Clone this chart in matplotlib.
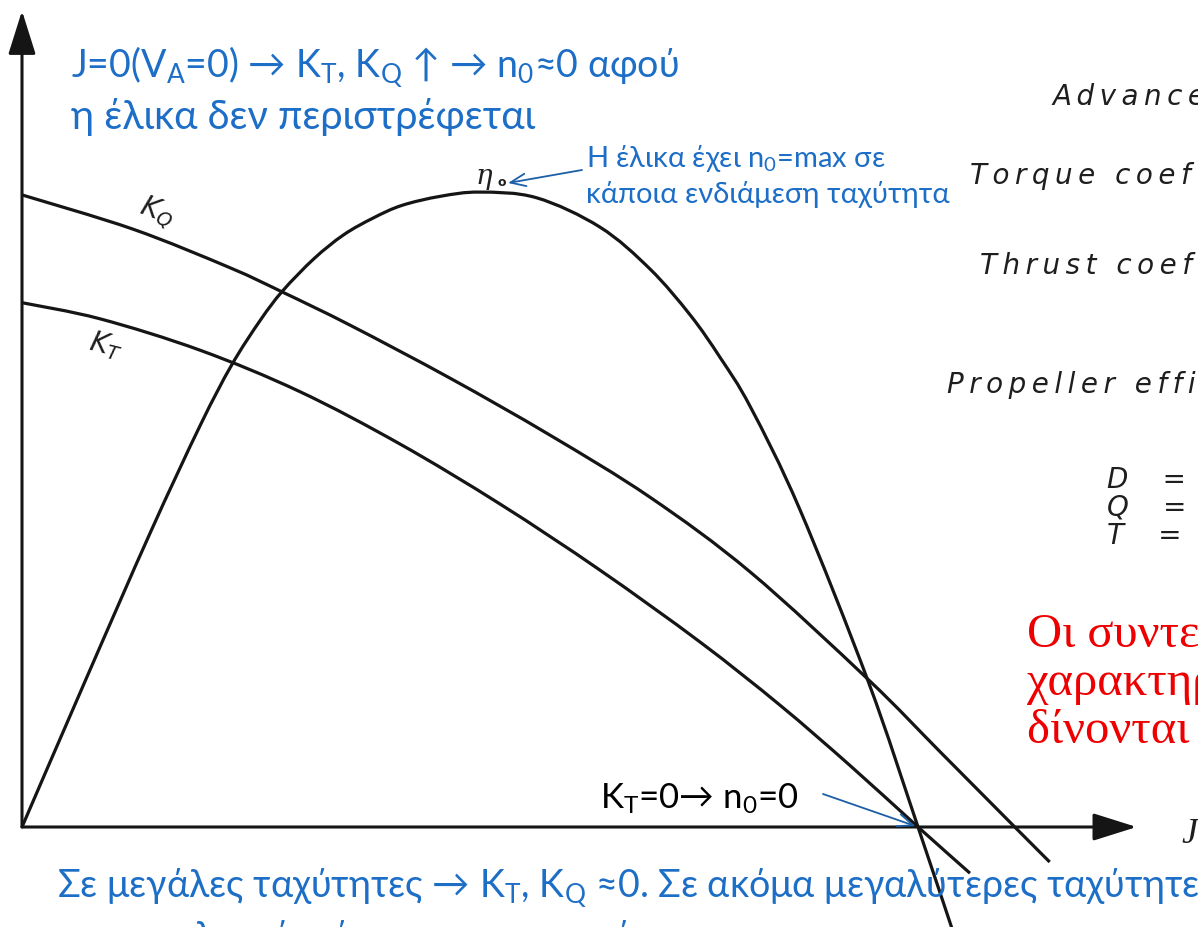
import numpy as np
import matplotlib
matplotlib.use("Agg")
import matplotlib.pyplot as plt
from matplotlib.patches import FancyArrowPatch, PathPatch
from matplotlib.path import Path

plt.rcParams['font.family'] = ['Lato', 'Noto Sans', 'DejaVu Sans']
plt.rcParams['mathtext.fontset'] = 'custom'
plt.rcParams['mathtext.rm'] = 'Lato'
plt.rcParams['mathtext.it'] = 'Lato'
plt.rcParams['mathtext.sf'] = 'DejaVu Sans:italic'

# open water curves of the propeller (J against scaled K_T, K_Q and eta_0)
j_kt = [0.000, 0.087, 0.199, 0.310, 0.422, 0.534, 0.645, 0.757, 0.846, 0.924, 1.000, 1.058]
kt = [0.749, 0.726, 0.681, 0.622, 0.547, 0.461, 0.367, 0.264, 0.174, 0.088, 0.000, -0.066]

j_kq = [0.000, 0.124, 0.232, 0.291, 0.366, 0.478, 0.589, 0.701, 0.813, 0.945, 1.025, 1.108, 1.147]
kq = [0.903, 0.854, 0.799, 0.764, 0.717, 0.641, 0.560, 0.471, 0.364, 0.210, 0.107, 0.000, -0.050]

j_eta = [0.000, 0.071, 0.143, 0.199, 0.234, 0.266, 0.291, 0.326, 0.359, 0.392, 0.424, 0.467,
         0.511, 0.574, 0.645, 0.701, 0.746, 0.779, 0.813, 0.868, 0.945, 1.000, 1.047]
eta = [0.000, 0.210, 0.420, 0.574, 0.660, 0.724, 0.766, 0.812, 0.846, 0.870, 0.888, 0.901,
       0.907, 0.899, 0.857, 0.797, 0.731, 0.671, 0.600, 0.454, 0.206, 0.000, -0.180]

# axis ends
j_end = 1.244
y_end = 1.166

W, H = 1198, 928
ox, oy = 22, 828          # origin in pixels
sx, sy = 896.0, 700.0     # pixels per unit

fig = plt.figure(figsize=(W / 100, H / 100), dpi=100)
ax = fig.add_axes([0, 0, 1, 1])
ax.set_xlim(-ox / sx, (W - ox) / sx)
ax.set_ylim(-(H - oy) / sy, oy / sy)
ax.axis('off')


def at(x, y):
    # pixel position -> figure fraction
    return x / W, 1 - y / H


def spaced(s):
    return '\u2009'.join(s)


def smooth(x, y):
    # catmull-rom through the points, as cubic bezier segments
    p = np.column_stack([x, y])
    verts, codes = [p[0]], [Path.MOVETO]
    for i in range(len(p) - 1):
        p0 = p[i - 1] if i > 0 else p[i]
        p3 = p[i + 2] if i + 2 < len(p) else p[i + 1]
        verts += [p[i] + (p[i + 1] - p0) / 6, p[i + 1] - (p3 - p[i]) / 6, p[i + 1]]
        codes += [Path.CURVE4] * 3
    return Path(verts, codes)


ink = '#151515'
lw = 2.3
for x, y in [(j_kq, kq), (j_kt, kt), (j_eta, eta)]:
    ax.add_patch(PathPatch(smooth(x, y), fill=False, edgecolor=ink, lw=lw, capstyle='butt'))

# axes with filled arrow heads
for tip in [(j_end, 0), (0, y_end)]:
    ax.add_patch(FancyArrowPatch((0, 0), tip, arrowstyle='-|>,head_length=27,head_width=8.5',
                                 mutation_scale=1, color=ink, lw=2.2, shrinkA=0, shrinkB=0))

# curve labels from the original diagram
scan = '#1e1e1e'
fig.text(*at(135, 224), r'$\mathsf{K_Q}$', fontsize=20, color=scan, rotation=-20, va='baseline')
fig.text(*at(86, 357), r'$\mathsf{K_T}$', fontsize=20, color=scan, rotation=-14, va='baseline')
fig.text(*at(476, 184), 'η', fontsize=20, color=scan, family='DejaVu Serif', style='italic',
         va='baseline')
fig.text(*at(497, 186), 'o', fontsize=9, color=scan, family='DejaVu Sans', weight='bold',
         va='baseline')
fig.text(*at(1181, 843), 'J', fontsize=26, color=scan, family='Liberation Serif', style='italic',
         va='baseline')

side = [('Advance coefficient', 1052, 105), ('Torque coefficient', 970, 184),
        ('Thrust coefficient', 980, 274), ('Propeller efficiency', 947, 393),
        ('D  =', 1107, 488), ('Q  =', 1107, 516), ('T  =', 1107, 544)]
for s, x, y in side:
    fig.text(*at(x, y), spaced(s), fontsize=20, color=scan, family='DejaVu Sans',
             style='italic', va='baseline')

# notes
blue = '#1d6ec6'
fig.text(*at(71, 77), 'J=0(V$_{A}$=0) → K$_{T}$, K$_{Q}$ ↑ → n$_{0}$≈0 αφού', fontsize=27,
         color=blue, va='baseline')
fig.text(*at(71, 129), 'η έλικα δεν περιστρέφεται', fontsize=28.5, color=blue, va='baseline')

fig.text(*at(586, 167), 'Η έλικα έχει n$_{0}$=max σε', fontsize=21, color=blue, va='baseline')
fig.text(*at(586, 203), 'κάποια ενδιάμεση ταχύτητα', fontsize=21, color=blue, va='baseline')
fig.add_artist(FancyArrowPatch(at(582, 171), at(508, 184), transform=fig.transFigure,
                               arrowstyle='->,head_length=11,head_width=4.5', mutation_scale=1,
                               color='#1d5fa6', lw=1.3, shrinkA=0, shrinkB=0))

fig.text(*at(600, 809), 'K$_{T}$=0→ n$_{0}$=0', fontsize=25, color='black', va='baseline')
ax.annotate('', xy=(j_kt[kt.index(0.0)], 0.0), xycoords='data',
            xytext=at(823, 795), textcoords='figure fraction',
            arrowprops=dict(arrowstyle='->,head_length=11,head_width=4.5', mutation_scale=1,
                            color='#1d5fa6', lw=1.3, shrinkA=0, shrinkB=2))

fig.text(*at(57, 897), 'Σε μεγάλες ταχύτητες → K$_{T}$, K$_{Q}$ ≈0. Σε ακόμα μεγαλύτερες ταχύτητες',
         fontsize=27, color=blue, va='baseline')
fig.text(*at(57, 949), 'οι συντελεστές γίνονται αρνητικοί', fontsize=27, color=blue,
         va='baseline')

red = '#ee0000'
for s, y in [('Οι συντελεστές', 647), ('χαρακτηριστικά', 695), ('δίνονται από', 743)]:
    fig.text(*at(1027, y), s, fontsize=35, color=red, family='Liberation Serif', va='baseline')

fig.savefig('out.png', dpi=100)
